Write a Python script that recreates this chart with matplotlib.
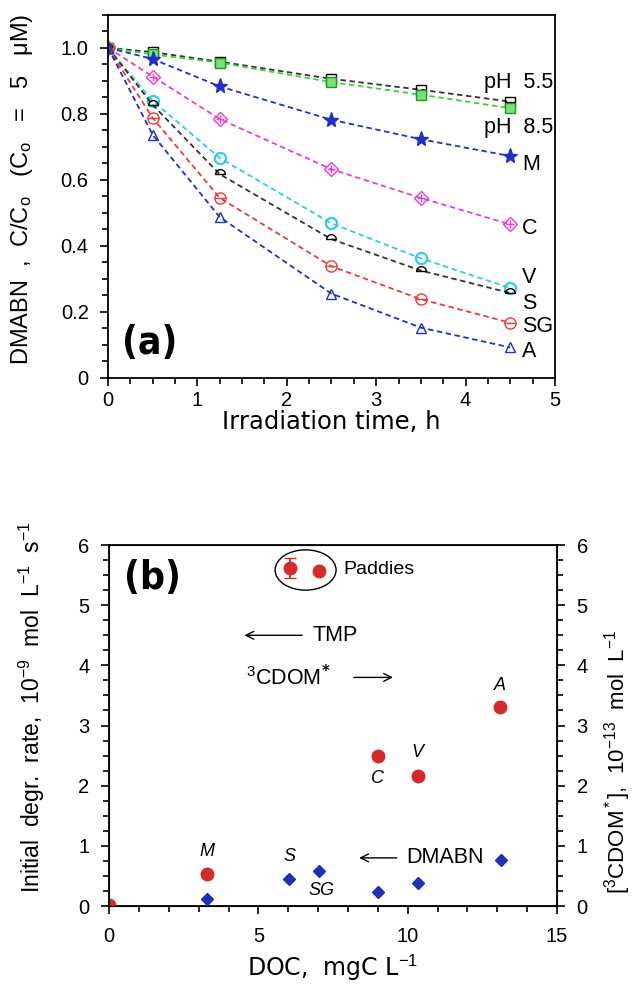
import numpy as np
import matplotlib
matplotlib.use("Agg")
import matplotlib.pyplot as plt
from matplotlib.path import Path
from matplotlib.patches import Ellipse
from matplotlib.ticker import MultipleLocator

plt.rcParams['font.family'] = ['Liberation Sans', 'DejaVu Sans']
plt.rcParams['mathtext.fontset'] = 'custom'
plt.rcParams['mathtext.rm'] = 'Liberation Sans'
plt.rcParams['mathtext.it'] = 'Liberation Sans:italic'

# panel (a): C/Co vs irradiation time
tiempo = [0, 0.5, 1.25, 2.5, 3.5, 4.5]
ph55 = [1.0, 0.987, 0.958, 0.906, 0.873, 0.837]
ph85 = [1.0, 0.980, 0.955, 0.896, 0.858, 0.817]
serie_m = [1.0, 0.966, 0.883, 0.782, 0.723, 0.672]
serie_c = [1.0, 0.913, 0.784, 0.632, 0.545, 0.465]
serie_v = [1.0, 0.839, 0.666, 0.468, 0.362, 0.272]
serie_s = [1.0, 0.827, 0.617, 0.420, 0.325, 0.257]
serie_sg = [1.0, 0.787, 0.545, 0.338, 0.238, 0.167]
serie_a = [1.0, 0.736, 0.487, 0.255, 0.152, 0.092]

# panel (b): initial rates vs DOC
doc_tmp = [0, 3.29, 6.06, 7.02, 8.99, 10.33, 13.09]
tasa_tmp = [0.02, 0.54, 5.62, 5.57, 2.49, 2.16, 3.31]
err_tmp = [0, 0, 0.16, 0, 0, 0, 0]
doc_dmabn = [0, 3.29, 6.04, 7.02, 8.99, 10.33, 13.11]
tasa_dmabn = [0.02, 0.116, 0.45, 0.59, 0.23, 0.39, 0.76]

ANGOSTA = ['DejaVu Sans']

# half-circle marker for S
arco = Path.arc(0, 180)
medio = Path(np.vstack([arco.vertices, arco.vertices[:1]]),
             list(arco.codes) + [Path.LINETO])

fig = plt.figure(figsize=(6.32, 9.89), dpi=100)

# ---------------- (a) ----------------
ax = fig.add_axes([0.171, 0.618, 0.707, 0.367])
negro = '#333333'
verde = '#3fcf3f'
azul = '#2230c8'
magenta = '#ee3fcc'
cian = '#2fcde0'
rojo = '#ee3b3b'
ls = dict(ls=(0, (3, 2)), lw=1.3)
ms = 7

ax.plot(tiempo, ph55, color=negro, marker='s', mfc='none', mec='black', ms=ms, **ls)
ax.plot(tiempo, ph55, ls='none', marker='_', color='black', ms=ms)
ax.plot(tiempo, ph85, color=verde, marker='s', mfc='#7be07b', mec='#1a9a1a', ms=ms, **ls)
ax.plot(tiempo, serie_m, color=azul, marker='*', mfc=azul, mec=azul, ms=11, **ls)
ax.plot(tiempo, serie_c, color=magenta, marker='D', mfc='none', mec=magenta, ms=7, **ls)
ax.plot(tiempo, serie_c, ls='none', marker='+', color=magenta, ms=6)
ax.plot(tiempo, serie_v, color=cian, marker='o', mfc='none', mec=cian, ms=8, mew=1.6, **ls)
ax.plot(tiempo, serie_s, color=negro, marker=medio, mfc='none', mec='black', ms=7, **ls)
ax.plot(tiempo, serie_sg, color=rojo, marker='o', mfc='none', mec=rojo, ms=8, **ls)
ax.plot(tiempo, serie_sg, ls='none', marker='_', color=rojo, ms=8)
ax.plot(tiempo, serie_a, color=azul, marker='^', mfc='none', mec=azul, ms=7.5, **ls)

etiquetas = [('pH  5.5', 4.98, 0.895, 'right'), ('pH  8.5', 4.98, 0.758, 'right'),
             ('M', 4.63, 0.645, 'left'), ('C', 4.63, 0.453, 'left'),
             ('V', 4.63, 0.305, 'left'), ('S', 4.63, 0.225, 'left'),
             ('SG', 4.63, 0.155, 'left'), ('A', 4.63, 0.08, 'left')]
for txt, xx, yy, ha in etiquetas:
    ax.text(xx, yy, txt, fontsize=15.5, ha=ha, va='center')

ax.text(0.16, 0.105, '(a)', fontsize=28, fontweight='bold', fontstretch='condensed',
        family=['DejaVu Sans'], va='center', ha='left')

ax.set_xlim(0, 5)
ax.set_ylim(0, 1.1)
ax.set_xticks([0, 1, 2, 3, 4, 5])
ax.set_yticks([0, 0.2, 0.4, 0.6, 0.8, 1.0])
ax.set_yticklabels(['0', '0.2', '0.4', '0.6', '0.8', '1.0'])
ax.xaxis.set_minor_locator(MultipleLocator(0.25))
ax.yaxis.set_minor_locator(MultipleLocator(0.05))
ax.tick_params(which='both', direction='out', labelsize=14.5, width=1.2)
ax.tick_params(which='major', length=6)
ax.tick_params(which='minor', length=4)
ax.tick_params(axis='y', pad=8)
for s in ax.spines.values():
    s.set_linewidth(1.3)
ax.set_xlabel('Irradiation time, h', fontsize=17.5, family=ANGOSTA, labelpad=0)
ax.set_ylabel(r'DMABN  ,  C/C$_\mathrm{o}$   (C$_\mathrm{o}$   =   5   μM)', fontsize=17)
ax.yaxis.set_label_coords(-0.163, 0.52)

# ---------------- (b) ----------------
bx = fig.add_axes([0.1725, 0.0839, 0.709, 0.365])
rojo_b = '#d62a2a'
azul_b = '#1f2fb5'
bx.errorbar(doc_tmp, tasa_tmp, yerr=err_tmp, fmt='o', color=rojo_b, ms=9,
            capsize=4, elinewidth=1.3, zorder=3)
bx.plot(doc_dmabn, tasa_dmabn, ls='none', marker='D', color=azul_b, ms=6.5, zorder=3)

bx.add_patch(Ellipse((6.58, 5.585), 2.04, 0.67, fill=False, lw=1.0, color='black'))
bx.text(7.85, 5.6, 'Paddies', fontsize=14, va='center')

flecha = dict(arrowstyle='->', lw=1.0, color='black', mutation_scale=14)
bx.annotate('', xy=(4.44, 4.5), xytext=(6.56, 4.5), arrowprops=flecha)
bx.text(6.8, 4.5, 'TMP', fontsize=15.5, va='center')
bx.text(4.6, 3.8, r'$^\mathrm{3}$CDOM$^\mathbf{*}$', fontsize=15.5, va='center')
bx.annotate('', xy=(9.6, 3.8), xytext=(8.1, 3.8), arrowprops=flecha)
bx.annotate('', xy=(8.28, 0.8), xytext=(9.72, 0.8), arrowprops=flecha)
bx.text(9.95, 0.8, 'DMABN', fontsize=15.5, va='center')

nombres = [('M', 3.29, 0.9), ('S', 6.05, 0.82), ('SG', 7.1, 0.26), ('C', 8.99, 2.12),
           ('V', 10.33, 2.55), ('A', 13.1, 3.66)]
for txt, xx, yy in nombres:
    bx.text(xx, yy, txt, fontsize=13, style='italic', ha='center', va='center')

bx.text(0.5, 5.45, '(b)', fontsize=28, fontweight='bold', fontstretch='condensed',
        family=['DejaVu Sans'], va='center', ha='left')

bx.set_xlim(0, 15)
bx.set_ylim(0, 6)
bx.set_xticks([0, 5, 10, 15])
bx.set_yticks(range(7))
bx.xaxis.set_minor_locator(MultipleLocator(1))
bx.yaxis.set_minor_locator(MultipleLocator(0.25))
bx.tick_params(which='both', direction='out', labelsize=14.5, width=1.2)
bx.tick_params(which='major', length=6)
bx.tick_params(which='minor', length=4)
bx.tick_params(axis='y', pad=8)
bx.tick_params(axis='x', pad=9)
for s in bx.spines.values():
    s.set_linewidth(1.3)
bx.set_xlabel(r'DOC,  mgC L$^{-1}$', fontsize=17, family=ANGOSTA, labelpad=5)
bx.set_ylabel(r'Initial  degr.  rate,  10$^{-9}$  mol  L$^{-1}$  s$^{-1}$', fontsize=16.5)
bx.yaxis.set_label_coords(-0.138, 0.55)

bx2 = bx.twinx()
bx2.set_ylim(0, 6)
bx2.set_yticks(range(7))
bx2.yaxis.set_minor_locator(MultipleLocator(0.25))
bx2.tick_params(which='both', direction='out', labelsize=14.5, width=1.2, pad=8)
bx2.tick_params(which='major', length=6)
bx2.tick_params(which='minor', length=4)
bx2.set_ylabel(r'[$^3$CDOM$^*$],  10$^{-13}$  mol  L$^{-1}$', fontsize=16)
bx2.yaxis.set_label_coords(1.1, 0.4)

fig.savefig('out.png', dpi=100)
